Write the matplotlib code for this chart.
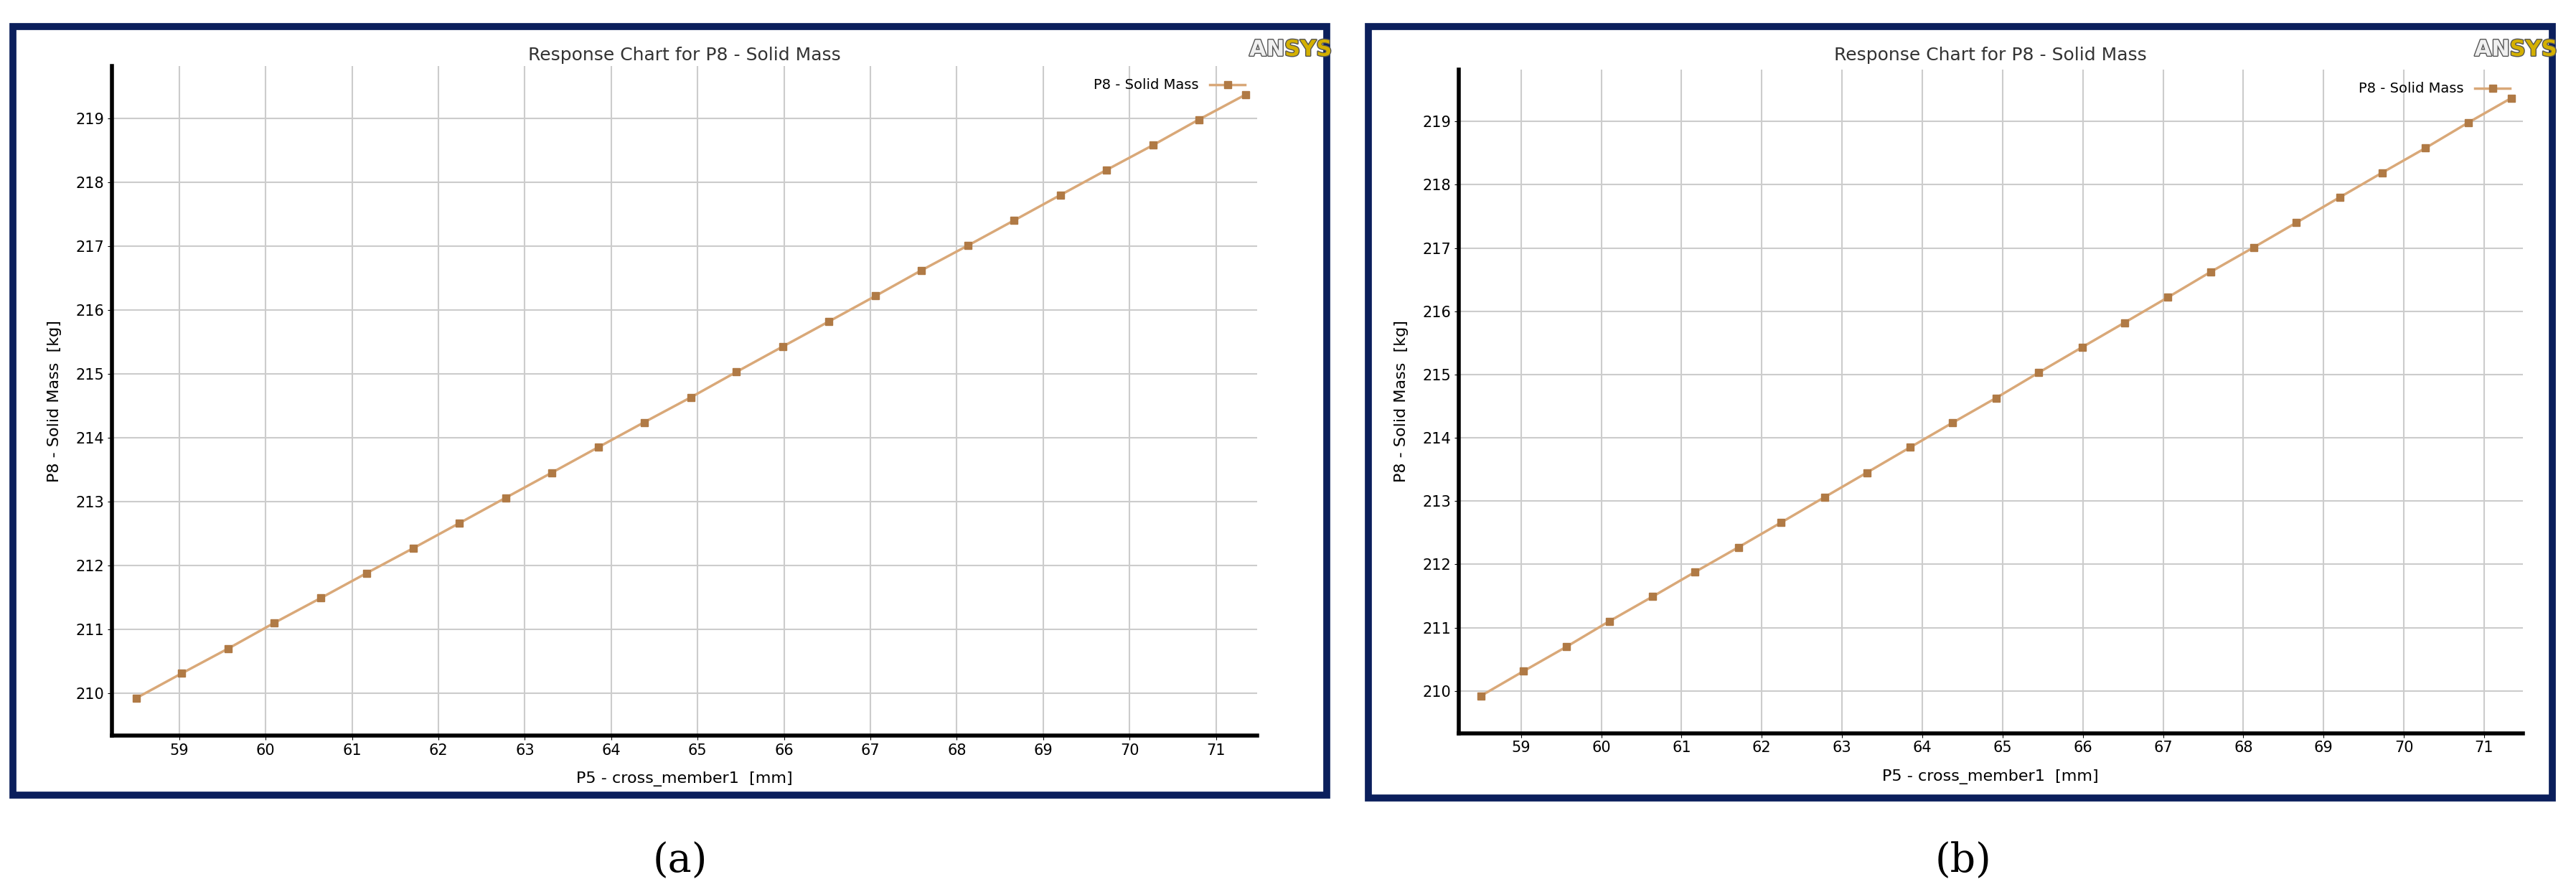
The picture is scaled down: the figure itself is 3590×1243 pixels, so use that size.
import numpy as np
import matplotlib.pyplot as plt
import matplotlib.patheffects as pe
from matplotlib.patches import Rectangle

# data
cross_member = [58.5, 59.03, 59.57, 60.1, 60.64, 61.17, 61.71, 62.24, 62.78, 63.31,
                63.85, 64.38, 64.92, 65.45, 65.99, 66.52, 67.06, 67.59, 68.13, 68.66,
                69.2, 69.73, 70.27, 70.8, 71.34]
solid_mass = [209.92, 210.31, 210.7, 211.1, 211.49, 211.88, 212.27, 212.66, 213.06, 213.45,
              213.85, 214.24, 214.63, 215.03, 215.43, 215.82, 216.22, 216.62, 217.01, 217.4,
              217.8, 218.19, 218.58, 218.98, 219.37]
xticks = list(range(59, 72))
yticks = list(range(210, 220))

fig = plt.figure(figsize=(35.91, 12.43), dpi=100)
navy = "#0b1f5c"
line_col = "#d9a878"
mark_col = "#b07a45"

panels = [
    # frame, axes, caption x
    ((0.005, 0.109, 0.510, 0.861), (0.0434, 0.175, 0.4446, 0.751), 0.264, "(a)"),
    ((0.531, 0.105, 0.4595, 0.865), (0.566, 0.178, 0.413, 0.744), 0.762, "(b)"),
]

for frame, box, cx, cap in panels:
    fig.patches.append(Rectangle((frame[0], frame[1]), frame[2], frame[3],
                                 transform=fig.transFigure, fill=False,
                                 edgecolor=navy, linewidth=7))
    ax = fig.add_axes(box)
    ax.plot(cross_member, solid_mass, color=line_col, lw=2.5, marker="s",
            ms=7, mfc=mark_col, mec=mark_col, label="P8 - Solid Mass")
    ax.set_xlim(58.22, 71.48)
    ax.set_ylim(209.33, 219.82)
    ax.set_xticks(xticks)
    ax.set_yticks(yticks)
    ax.grid(True, color="#cccccc", lw=1.5)
    ax.tick_params(labelsize=15, length=4)
    for s in ["top", "right"]:
        ax.spines[s].set_visible(False)
    ax.spines["left"].set_linewidth(4)
    ax.spines["bottom"].set_linewidth(4)
    ax.set_xlabel("P5 - cross_member1  [mm]", fontsize=16, labelpad=14)
    ax.set_ylabel("P8 - Solid Mass  [kg]", fontsize=16, labelpad=14)
    ax.legend(loc="upper right", frameon=False, fontsize=14, markerfirst=False,
              handlelength=2.5)
    top = frame[1] + frame[3]
    fig.text(box[0] + box[2] / 2, top - 0.022, "Response Chart for P8 - Solid Mass",
             ha="center", va="top", fontsize=18, color="#333333")
    right = frame[0] + frame[2] - 0.003
    t = fig.text(right - 0.0135, top - 0.014, "AN", ha="right", va="top",
                 fontsize=22, weight="bold", color="#f0f0f0")
    t.set_path_effects([pe.withStroke(linewidth=2, foreground="#555555")])
    t = fig.text(right - 0.0135, top - 0.014, "SYS", ha="left", va="top",
                 fontsize=22, weight="bold", color="#d4b000")
    t.set_path_effects([pe.withStroke(linewidth=2, foreground="#555555")])
    fig.text(cx, 0.035, cap, ha="center", va="center", fontsize=40,
             family="DejaVu Serif")

plt.savefig("out.png", dpi=100)
